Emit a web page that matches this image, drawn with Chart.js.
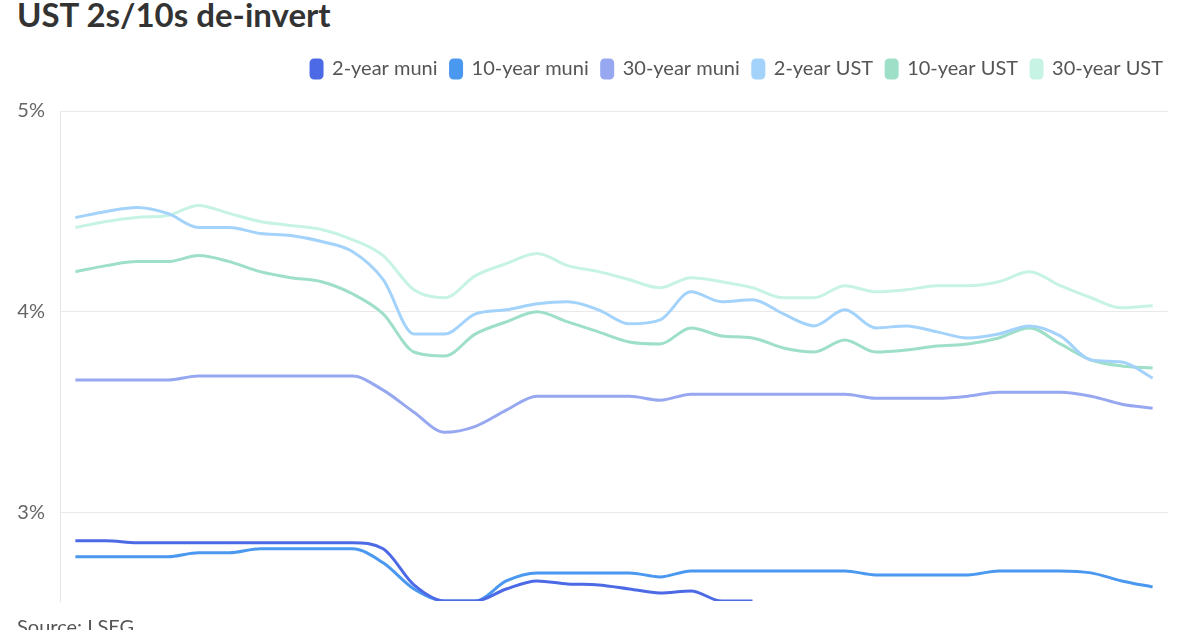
<!DOCTYPE html>
<html><head><meta charset="utf-8">
<script src="https://cdn.jsdelivr.net/npm/chart.js@4"></script>
<style>
html,body{margin:0;padding:0;background:#fff;width:1200px;height:630px;overflow:hidden;font-family:Lato,sans-serif}
#title{position:absolute;left:17px;top:-5px;font-size:33px;font-weight:bold;color:#333;white-space:nowrap;line-height:1.2}
#source{position:absolute;left:17px;top:614px;font-size:20px;color:#555;white-space:nowrap;line-height:1.2}
#wrap{position:absolute;left:0;top:0;width:1200px;height:630px}
</style></head><body>
<div id="title">UST 2s/10s de-invert</div>
<div id="wrap"><canvas id="c"></canvas></div>
<div id="source">Source: LSEG</div>
<script>
const categories = ["2024-07-18","2024-07-19","2024-07-22","2024-07-23","2024-07-24","2024-07-25","2024-07-26","2024-07-29","2024-07-30","2024-07-31","2024-08-01","2024-08-02","2024-08-05","2024-08-06","2024-08-07","2024-08-08","2024-08-09","2024-08-12","2024-08-13","2024-08-14","2024-08-15","2024-08-16","2024-08-19","2024-08-20","2024-08-21","2024-08-22","2024-08-23","2024-08-26","2024-08-27","2024-08-28","2024-08-29","2024-08-30","2024-09-03","2024-09-04","2024-09-05","2024-09-06"];
const seriesNames = ["2-year muni","10-year muni","30-year muni","2-year UST","10-year UST","30-year UST"];
const twoYrMuni   = [2.86,2.86,2.85,2.85,2.85,2.85,2.85,2.85,2.85,2.85,2.82,2.64,2.56,2.56,2.62,2.66,2.645,2.64,2.62,2.60,2.61,2.56,2.56,null,null,null,null,null,null,null,null,null,null,null,null,null];
const tenYrMuni   = [2.78,2.78,2.78,2.78,2.80,2.80,2.82,2.82,2.82,2.82,2.75,2.62,2.56,2.56,2.66,2.70,2.70,2.70,2.70,2.68,2.71,2.71,2.71,2.71,2.71,2.71,2.69,2.69,2.69,2.69,2.71,2.71,2.71,2.70,2.66,2.63];
const thirtyYrMuni= [3.66,3.66,3.66,3.66,3.68,3.68,3.68,3.68,3.68,3.68,3.61,3.50,3.40,3.43,3.51,3.58,3.58,3.58,3.58,3.56,3.59,3.59,3.59,3.59,3.59,3.59,3.57,3.57,3.57,3.58,3.60,3.60,3.60,3.58,3.54,3.52];
const twoYrUST    = [4.47,4.50,4.52,4.49,4.42,4.42,4.39,4.38,4.35,4.30,4.16,3.89,3.89,3.99,4.01,4.04,4.05,4.01,3.94,3.96,4.10,4.05,4.06,3.99,3.93,4.01,3.92,3.93,3.90,3.87,3.89,3.93,3.88,3.76,3.75,3.67];
const tenYrUST    = [4.20,4.23,4.25,4.25,4.28,4.25,4.20,4.17,4.15,4.09,3.99,3.80,3.78,3.89,3.95,4.00,3.95,3.90,3.85,3.84,3.92,3.88,3.87,3.82,3.80,3.86,3.80,3.81,3.83,3.84,3.87,3.92,3.84,3.76,3.73,3.72];
const thirtyYrUST = [4.42,4.45,4.47,4.48,4.53,4.49,4.45,4.43,4.41,4.36,4.28,4.11,4.07,4.18,4.24,4.29,4.23,4.20,4.16,4.12,4.17,4.15,4.12,4.07,4.07,4.13,4.10,4.11,4.13,4.13,4.15,4.20,4.13,4.07,4.02,4.03];
const yTicks = [3,4,5];
const yMin = 2.56, yMax = 5;

const colors = ["#4d6ae6","#4a98ef","#97a8f1","#a3d2fb","#9ddfc7","#c6f3e3"];
const allSeries = [twoYrMuni,tenYrMuni,thirtyYrMuni,twoYrUST,tenYrUST,thirtyYrUST];

const datasets = allSeries.map((d,i)=>({
  label: seriesNames[i],
  data: d,
  borderColor: colors[i],
  backgroundColor: colors[i],
  borderWidth: 3,
  pointRadius: 0,
  pointHoverRadius: 0,
  cubicInterpolationMode: 'monotone',
  spanGaps: false,
  fill: false
}));

const legendGap = {
  id: 'legendGap',
  beforeInit(chart) {
    const origFit = chart.legend.fit;
    chart.legend.fit = function () { origFit.call(this); this.height += 22; };
  }
};

new Chart(document.getElementById('c'), {
  type: 'line',
  data: { labels: categories, datasets },
  plugins: [legendGap],
  options: {
    responsive: true,
    maintainAspectRatio: false,
    animation: false,
    layout: { padding: { top: 46, right: 24, bottom: 29, left: 0 } },
    plugins: {
      legend: {
        position: 'top',
        align: 'end',
        labels: {
          boxWidth: 11, boxHeight: 18, useBorderRadius: true, borderRadius: 3,
          font: { family: 'Lato', size: 20 }, color: '#555', padding: 13
        }
      },
      tooltip: { enabled: false }
    },
    scales: {
      x: { type: 'category', display: false, offset: true },
      y: {
        min: yMin, max: yMax,
        afterBuildTicks: s => { s.ticks = yTicks.map(v => ({ value: v })); },
        afterFit: s => { s.width = 60; },
        ticks: { font: { family: 'Lato', size: 20 }, color: '#666', padding: 15, callback: v => v + '%' },
        grid: { color: '#e9e9e9', drawTicks: false, lineWidth: 1 },
        border: { color: '#e6e6e6' }
      },
      yRight: {
        position: 'right', display: true,
        afterFit: s => { s.width = 8; },
        ticks: { display: false },
        grid: { display: false, drawTicks: false },
        border: { display: false }
      }
    }
  }
});
</script>
</body></html>
